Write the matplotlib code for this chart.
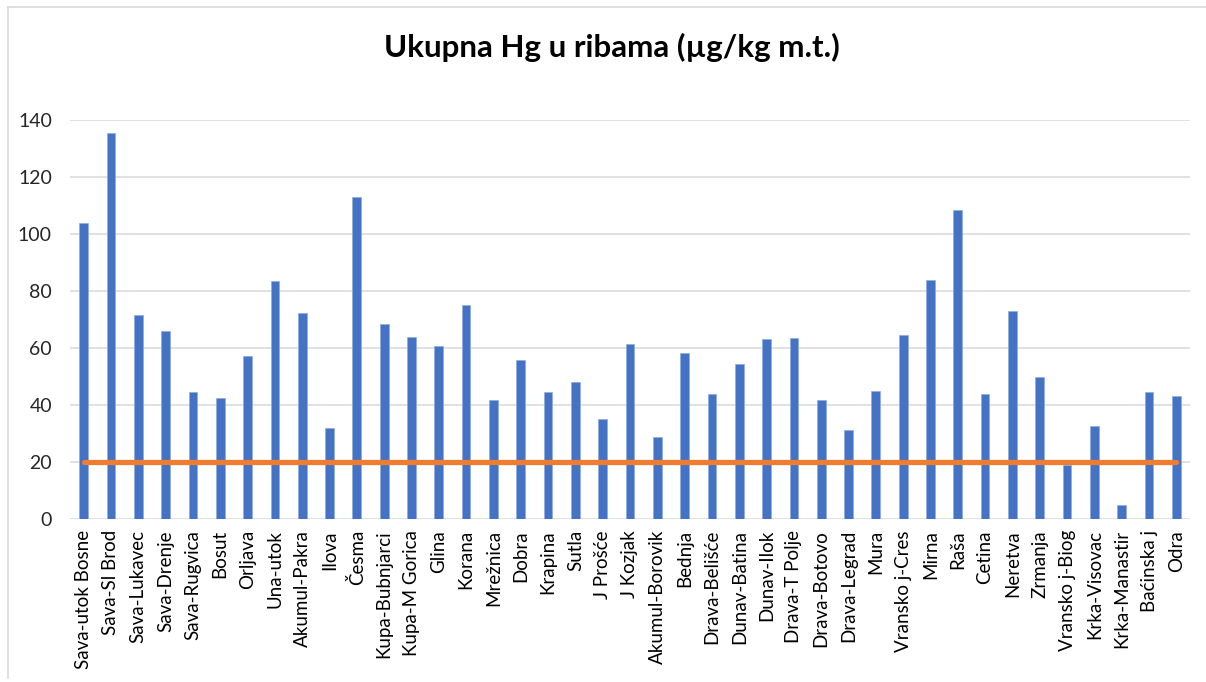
import matplotlib
matplotlib.use("Agg")
import matplotlib.pyplot as plt
from matplotlib.lines import Line2D

categories = [
    "Sava-utok Bosne", "Sava-Sl Brod", "Sava-Lukavec", "Sava-Drenje", "Sava-Rugvica",
    "Bosut", "Orljava", "Una-utok", "Akumul-Pakra", "Ilova", "Česma",
    "Kupa-Bubnjarci", "Kupa-M Gorica", "Glina", "Korana", "Mrežnica", "Dobra",
    "Krapina", "Sutla", "J Prošće", "J Kozjak", "Akumul-Borovik", "Bednja",
    "Drava-Belišće", "Dunav-Batina", "Dunav-Ilok", "Drava-T Polje", "Drava-Botovo",
    "Drava-Legrad", "Mura", "Vransko j-Cres", "Mirna", "Raša", "Cetina", "Neretva",
    "Zrmanja", "Vransko j-Biog", "Krka-Visovac", "Krka-Manastir", "Baćinska j", "Odra",
]
hg_values = [
    104.0, 135.3, 71.7, 66.1, 44.4, 42.6, 57.2, 83.4, 72.2, 32.0, 112.9,
    68.5, 64.0, 60.7, 75.0, 41.9, 55.9, 44.4, 47.9, 35.1, 61.5, 28.7, 58.3,
    44.0, 54.5, 63.1, 63.6, 41.9, 31.3, 44.8, 64.7, 83.8, 108.4, 43.7, 72.9,
    49.8, 19.0, 32.8, 5.0, 44.4, 43.3,
]
limit_value = 20
y_ticks = [0, 20, 40, 60, 80, 100, 120, 140]
title = "Ukupna Hg u ribama (µg/kg m.t.)"

plt.rcParams['font.family'] = ['Lato', 'DejaVu Sans']

W, H = 1206, 682
fig = plt.figure(figsize=(W / 100, H / 100), dpi=100)
ax = fig.add_axes([70 / W, 1 - 519 / H, (1190 - 70) / W, (519 - 120) / H])

x = list(range(len(categories)))
ax.bar(x, hg_values, width=0.32, color="#4472C4", edgecolor="#8FAADC",
       linewidth=0.5, zorder=2)
ax.plot([x[0], x[-1]], [limit_value, limit_value], color="#ED7D31",
        linewidth=3.8, solid_capstyle="round", zorder=3)

ax.set_xlim(-0.5, len(categories) - 0.5)
ax.set_ylim(0, 140)
ax.set_yticks(y_ticks)
ax.set_yticklabels([str(v) for v in y_ticks])
ax.set_xticks(x)
ax.set_xticklabels(categories, rotation=90, fontsize=13.5, color="#000000")
ax.tick_params(axis="x", length=0, pad=8)
ax.tick_params(axis="y", length=0, pad=13, labelsize=14, labelcolor="#262626")
ax.grid(axis="y", color="#D9D9D9", linewidth=1.1, zorder=0)
ax.set_axisbelow(True)
for s in ax.spines.values():
    s.set_visible(False)

fig.text(612 / W, 1 - 47 / H, title, ha="center", va="center",
         fontsize=22.5, fontweight="bold", color="#000000")

# chart border (left & top visible)
fig.add_artist(Line2D([8 / W, 8 / W], [4 / H, 1 - 7 / H], transform=fig.transFigure,
                      color="#D9D9D9", linewidth=1.2))
fig.add_artist(Line2D([8 / W, 1], [1 - 7 / H, 1 - 7 / H], transform=fig.transFigure,
                      color="#D9D9D9", linewidth=1.2))

fig.savefig("out.png", dpi=100)
